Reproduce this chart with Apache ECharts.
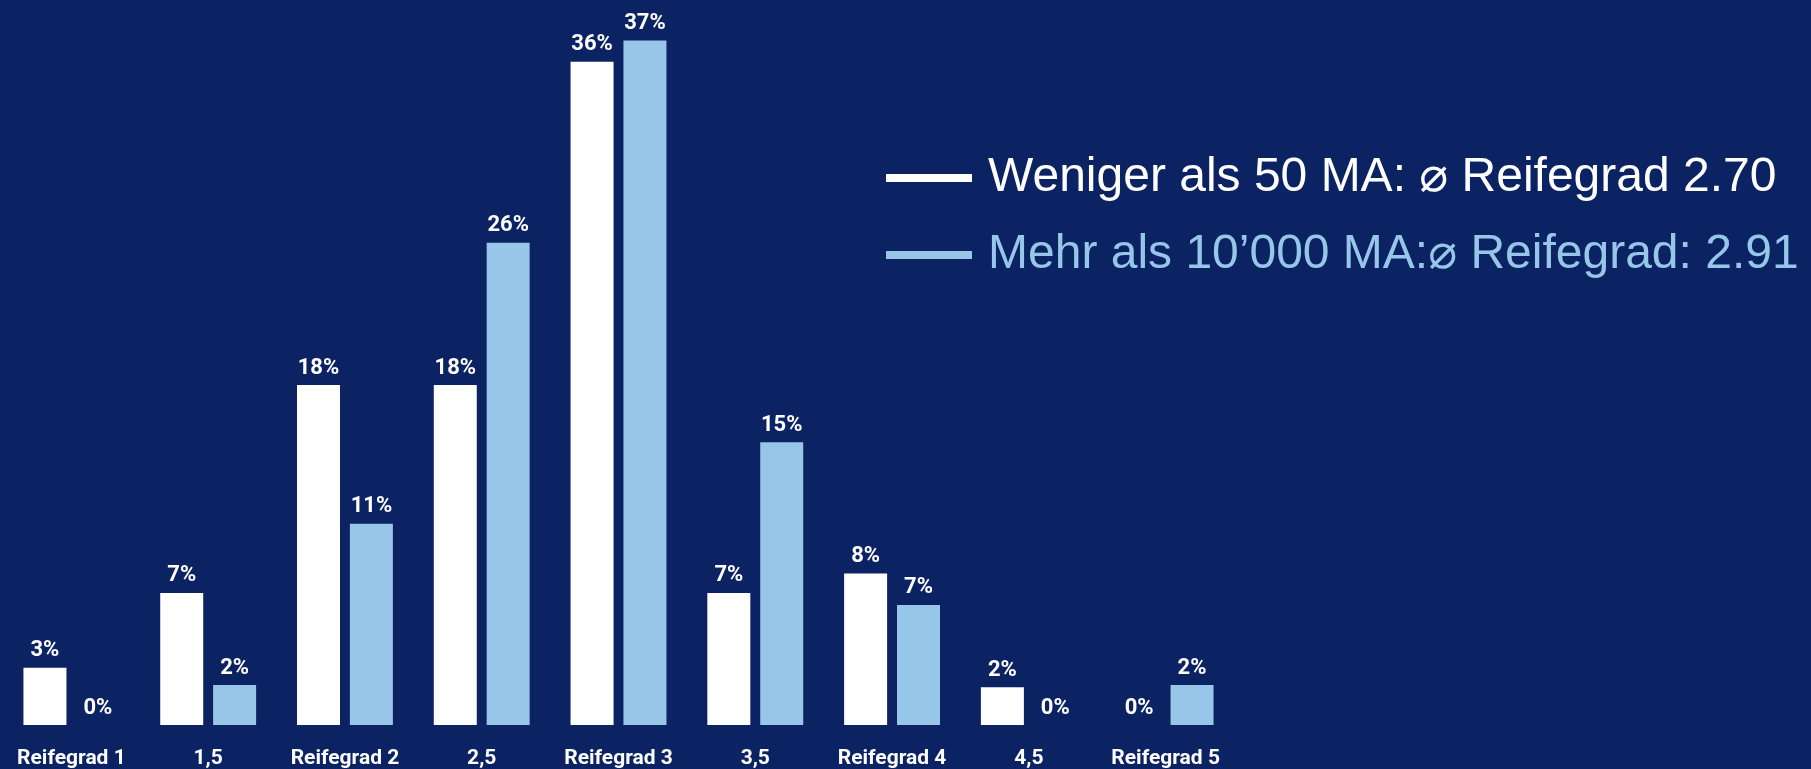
<!DOCTYPE html>
<html>
<head>
<meta charset="utf-8">
<script src="https://cdn.jsdelivr.net/npm/echarts@6/dist/echarts.min.js"></script>
<style>
  html, body { margin: 0; padding: 0; background: #0b2263; }
  #chart { width: 1811px; height: 769px; }
</style>
</head>
<body>
<div id="chart"></div>
<script>
// Reifegrad-Verteilung nach Unternehmensgröße (Anteil in %)
var categories = ['Reifegrad 1', '1,5', 'Reifegrad 2', '2,5', 'Reifegrad 3', '3,5', 'Reifegrad 4', '4,5', 'Reifegrad 5'];
var smallName = 'Weniger als 50 MA: \u2300 Reifegrad 2.70';
var largeName = 'Mehr als 10\u2019000 MA:\u2300 Reifegrad: 2.91';
var smallValues = [3.1, 7.15, 18.4, 18.4, 35.9, 7.15, 8.2, 2.05, 0];
var largeValues = [0, 2.16, 10.9, 26.1, 37.05, 15.3, 6.5, 0, 2.16];

var labelFont = 'Roboto, "DejaVu Sans Condensed", sans-serif';

var myChart = echarts.init(document.getElementById('chart'));

function barLabel() {
    return {
        show: true,
        position: 'top',
        distance: 6,
        color: '#ffffff',
        fontFamily: labelFont,
        fontWeight: 'bold',
        fontSize: 22,
        formatter: function (p) { return Math.round(p.value) + '%'; }
    };
}

myChart.setOption({
    backgroundColor: '#0b2263',
    animation: false,
    grid: {
        left: 3,
        right: 577,
        top: 4.5,
        bottom: 43
    },
    legend: {
        orient: 'vertical',
        left: 881,
        top: 149,
        icon: 'rect',
        itemWidth: 86,
        itemHeight: 8,
        itemGap: 29,
        itemTextGap: 15,
        textStyle: {
            fontFamily: '"Liberation Sans", Arial, "DejaVu Sans", sans-serif',
            fontSize: 48,
            lineHeight: 48,
            padding: [0, 0, 0, 11]
        },
        data: [
            { name: smallName, textStyle: { color: '#ffffff', padding: [0, 0, 0, 11] } },
            { name: largeName, textStyle: { color: '#96c6e8', padding: [0, 0, 0, 11] } }
        ]
    },
    xAxis: {
        type: 'category',
        data: categories,
        axisLine: { show: false },
        axisTick: { show: false },
        axisLabel: {
            interval: 0,
            margin: 23,
            color: '#ffffff',
            fontFamily: labelFont,
            fontWeight: 'bold',
            fontSize: 21
        }
    },
    yAxis: {
        type: 'value',
        min: 0,
        max: 39,
        show: false,
        splitLine: { show: false }
    },
    series: [
        {
            name: smallName,
            type: 'bar',
            data: smallValues,
            barWidth: 43,
            barGap: '23%',
            itemStyle: { color: '#ffffff' },
            label: barLabel()
        },
        {
            name: largeName,
            type: 'bar',
            data: largeValues,
            barWidth: 43,
            itemStyle: { color: '#97c6e8' },
            label: barLabel()
        }
    ]
});
</script>
</body>
</html>
